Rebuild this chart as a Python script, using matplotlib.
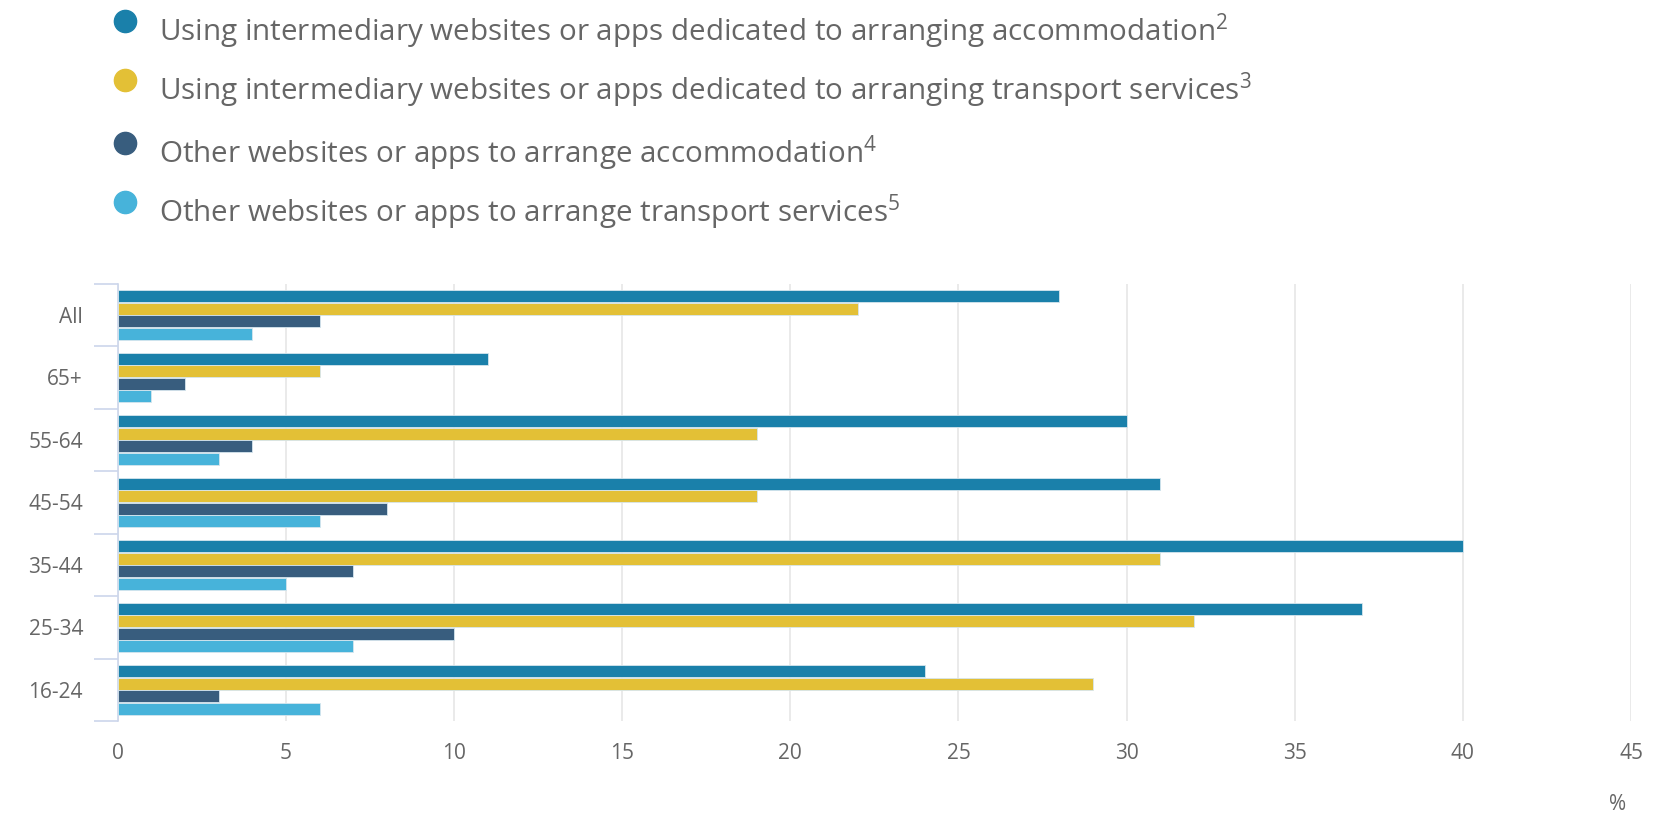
import numpy as np
import matplotlib
matplotlib.use("Agg")
from matplotlib import pyplot as plt

plt.rcParams['font.family'] = ['Open Sans', 'DejaVu Sans']
plt.rcParams['mathtext.fontset'] = 'custom'
plt.rcParams['mathtext.rm'] = 'Open Sans'

groups = ['All', '65+', '55-64', '45-54', '35-44', '25-34', '16-24']
series = [
    r'Using intermediary websites or apps dedicated to arranging accommodation$^{\mathregular{2}}$',
    r'Using intermediary websites or apps dedicated to arranging transport services$^{\mathregular{3}}$',
    r'Other websites or apps to arrange accommodation$^{\mathregular{4}}$',
    r'Other websites or apps to arrange transport services$^{\mathregular{5}}$',
]
interm_accom = [28, 11, 30, 31, 40, 37, 24]
interm_trans = [22, 6, 19, 19, 31, 32, 29]
other_accom = [6, 2, 4, 8, 7, 10, 3]
other_trans = [4, 1, 3, 6, 5, 7, 6]
colors = ['#1a80aa', '#e3c036', '#385d7e', '#47b3da']

values = [interm_accom, interm_trans, other_accom, other_trans]

fig = plt.figure(figsize=(16.63, 8.13), dpi=100)
ax = fig.add_axes([0.0708, 0.113, 0.910, 0.538])

y = np.arange(len(groups))
step = 0.2
for i, (vals, c) in enumerate(zip(values, colors)):
    ax.barh(y + (i - 1.5) * step, vals, height=0.19, color=c,
            edgecolor='#d6e6ee', linewidth=0.6, zorder=3)

ax.set_xlim(0, 45)
ax.set_ylim(len(groups) - 0.5, -0.5)
ax.set_xticks(np.arange(0, 46, 5))
ax.set_yticks(y)
ax.set_yticklabels(groups)
ax.set_yticks(np.arange(-0.5, len(groups), 1), minor=True)
ax.tick_params(axis='y', which='major', length=0, pad=25, labelsize=15, labelcolor='#666666')
ax.tick_params(axis='y', which='minor', length=17, width=1.2, color='#ccd6eb')
ax.tick_params(axis='x', length=0, pad=16, labelsize=15, labelcolor='#666666')
ax.grid(axis='x', color='#e6e6e6', linewidth=1.2, zorder=0)
for s in ['top', 'right', 'bottom']:
    ax.spines[s].set_visible(False)
ax.spines['left'].set_color('#ccd6eb')
ax.spines['left'].set_linewidth(1.2)

fig.text(0.978, -0.002, '%', fontsize=15, color='#666666', ha='right', va='bottom')

# legend
leg_y = [0.961, 0.888, 0.811, 0.738]
for lab, c, ly in zip(series, colors, leg_y):
    fig.lines.append(plt.Line2D([0.0753], [ly + 0.013], marker='o', markersize=16,
                                color=c, transform=fig.transFigure))
    fig.text(0.0955, ly, lab, fontsize=21.3, color='#666666', va='center')

fig.savefig('out.png', dpi=100)
